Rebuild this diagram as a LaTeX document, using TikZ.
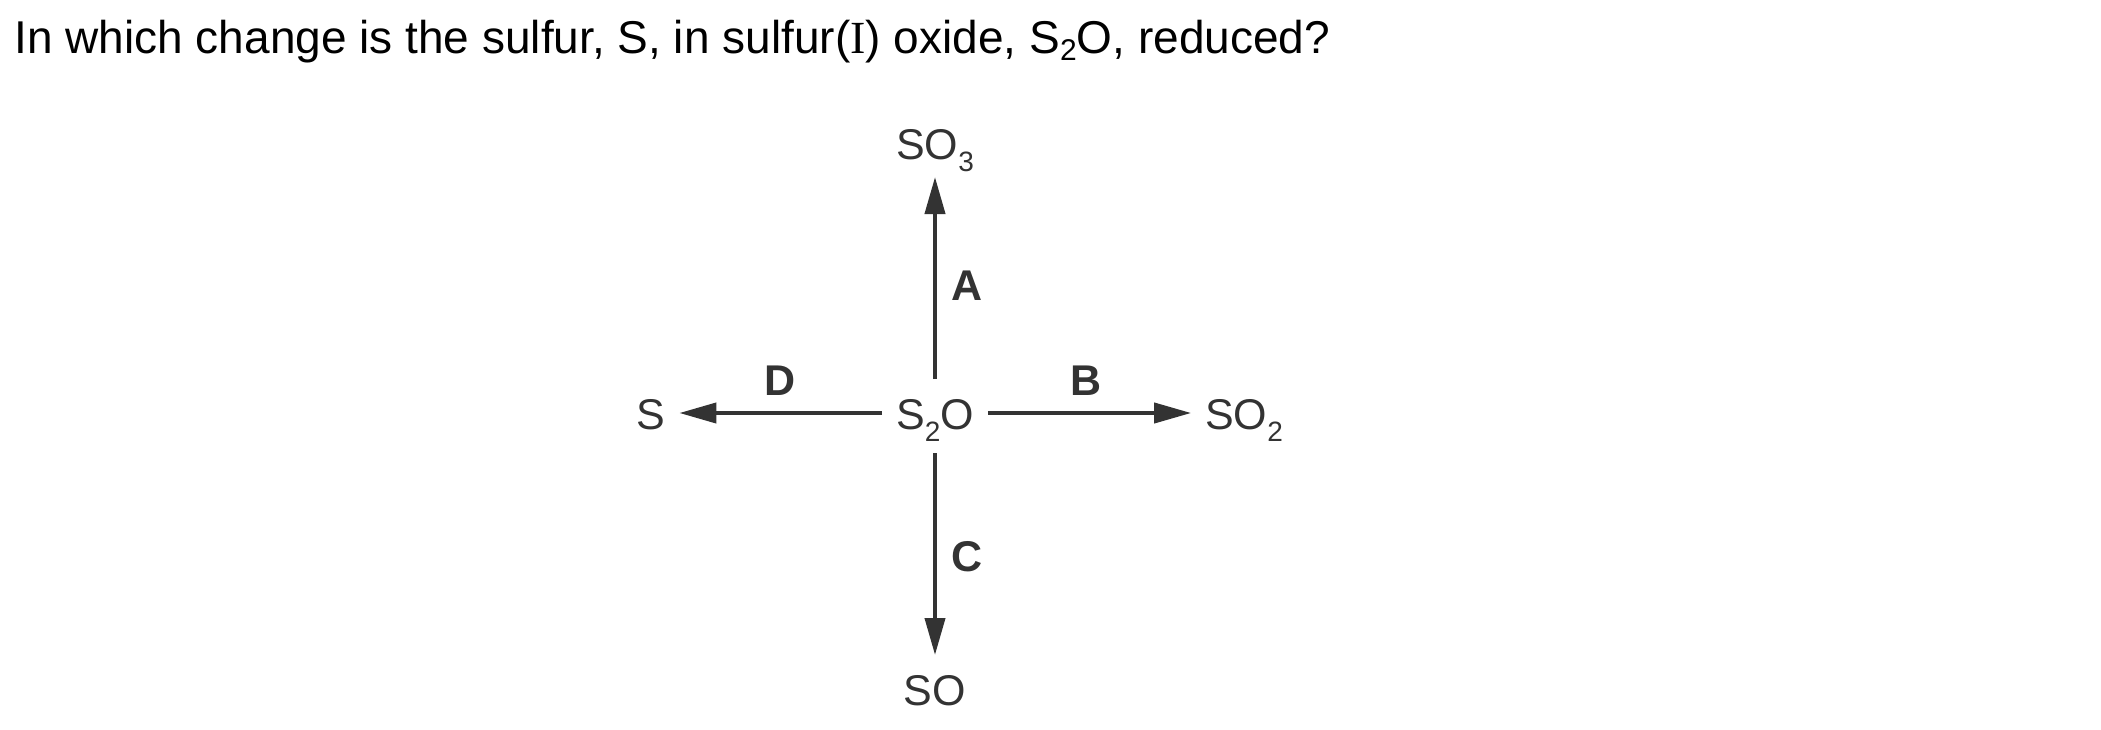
\documentclass[tikz,border=0pt]{standalone}
\usepackage{fontspec}
\setmainfont{Liberation Sans}
\newfontfamily\serifI{Liberation Serif}
\usetikzlibrary{arrows.meta}
\newcommand{\dsub}[1]{\raisebox{-6pt}{\fontsize{14}{14}\selectfont #1}}
\newcommand{\tsub}[1]{\raisebox{-3.5pt}{\fontsize{15}{15}\selectfont #1}}
\definecolor{diag}{gray}{0.2}
\begin{document}
\begin{tikzpicture}[x=0.5pt,y=-0.5pt,
  chem/.style={inner sep=0pt, outer xsep=7pt, outer ysep=9pt, text height=16pt, text depth=0pt,
    font=\fontsize{21.5}{25}\selectfont, text=diag},
  lab/.style={inner sep=0pt, text height=16pt, text depth=0pt,
    font=\fontsize{21.5}{25}\selectfont\bfseries, text=diag},
  arr/.style={draw=diag, line width=2pt, -{Triangle[length=18.5pt,width=10pt]}}]
\useasboundingbox (0,0) rectangle (2101,729);
\node[anchor=base west, inner sep=0pt, font=\fontsize{23}{27}\selectfont] (title) at (14,53)
  {In which change is the sulfur, S, in sulfur({\serifI I}) oxide, S\tsub{2}O, reduced?};
\node[chem] (s2o) at (935,413) {S\dsub{2}O};
\node[chem] (so3) at (935,143) {SO\dsub{3}};
\node[chem] (so2) at (1244,413) {SO\dsub{2}};
\node[chem] (so) at (935,689) {SO};
\node[chem] (s) at (651,413) {S};
\draw[arr] (s2o) -- (so3);
\draw[arr] (s2o) -- (so2);
\draw[arr, shorten <=3pt] (s2o) -- (so);
\draw[arr] (s2o) -- (s);
\node[lab] (la) at (967,284) {A};
\node[lab] (lb) at (1086,379) {B};
\node[lab] (lc) at (967,555) {C};
\node[lab] (ld) at (780,379) {D};
\end{tikzpicture}
\end{document}
